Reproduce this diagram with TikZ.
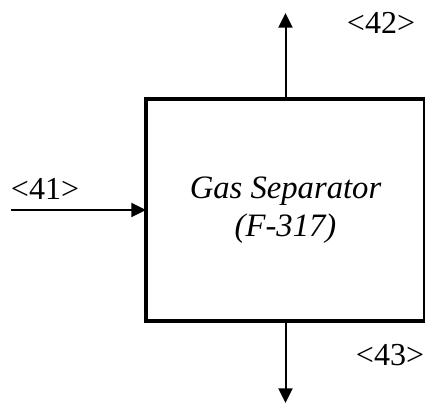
\documentclass[tikz,border=0pt]{standalone}
\usepackage{fontspec}
\setmainfont{Liberation Serif}
\usetikzlibrary{arrows.meta}
\tikzset{
  unitbox/.style={draw, line width=3.4pt, inner sep=0pt, outer sep=0pt,
    minimum width=209.25pt, minimum height=166.5pt, align=center,
    font=\fontsize{24.5}{28.5}\selectfont\itshape},
  flow/.style={line width=1.5pt, -{Triangle[length=11pt,width=10.5pt]}},
  streamlabel/.style={inner sep=0pt, font=\fontsize{24}{28}\selectfont}
}
\begin{document}
\begin{tikzpicture}[x=0.75pt,y=-0.75pt]
\useasboundingbox (0,0) rectangle (425,408);
\node[unitbox] (box) at (285.5,210) {Gas Separator\\(F-317)};
\coordinate (in) at (11,210);
\coordinate (top) at (285.5,13);
\coordinate (bot) at (285.5,403);
\draw[flow] (in) -- (box.west);
\draw[flow] (box.north) -- (top);
\draw[flow] (box.south) -- (bot);
\node[streamlabel] (l41) at (45,189) {<41>};
\node[streamlabel] (l42) at (381,23) {<42>};
\node[streamlabel] (l43) at (390,355) {<43>};
\end{tikzpicture}
\end{document}
